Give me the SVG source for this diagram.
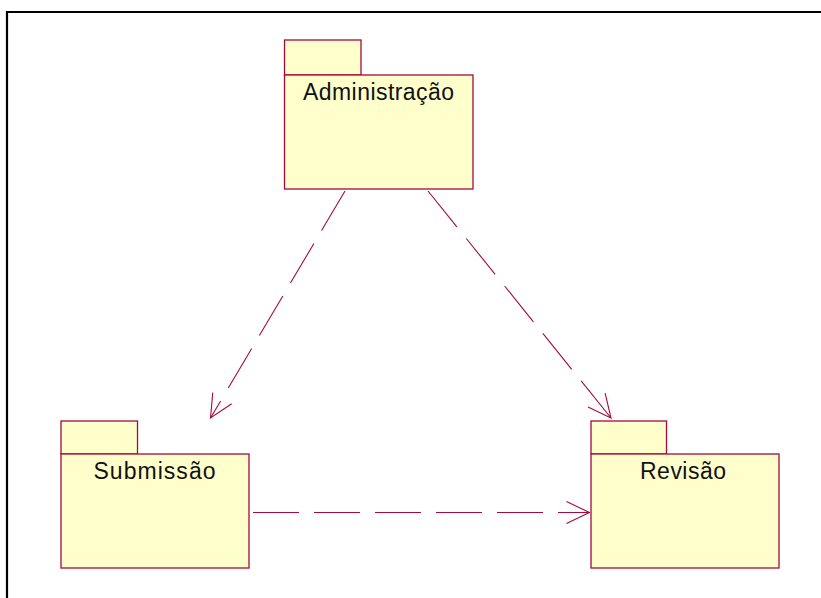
<svg xmlns="http://www.w3.org/2000/svg" width="821" height="598" viewBox="0 0 821 598">
  <style>
    .pkg { fill: #ffffcc; stroke: #a50a3c; stroke-width: 1.3; }
    .lbl { font-family: "Liberation Sans", Arial, sans-serif; font-size: 23px; fill: #111; text-anchor: middle; }
    .dep { fill: none; stroke: #a50a3c; stroke-width: 1.1; stroke-dasharray: 46 15; }
  </style>
  <defs>
    <marker id="open" markerUnits="userSpaceOnUse" markerWidth="30" markerHeight="30" viewBox="-25 -15 30 30" refX="0" refY="0" orient="auto">
      <path d="M-23,-11 L0,0 L-23,11" fill="none" stroke="#a50a3c" stroke-width="1.1"/>
    </marker>
  </defs>
  <rect width="821" height="598" fill="#ffffff"/>
  <!-- frame -->
  <path d="M7,598 V12 H821" fill="none" stroke="#000" stroke-width="2.2"/>

  <g id="connectors">
    <line class="dep" x1="345" y1="191" x2="210.5" y2="418" marker-end="url(#open)"/>
    <line class="dep" x1="428" y1="191" x2="611" y2="418" marker-end="url(#open)"/>
    <line class="dep" x1="253" y1="512.5" x2="589.5" y2="512.5" marker-end="url(#open)"/>
  </g>

  <g id="administracao">
    <rect class="pkg" x="284.5" y="40" width="76.5" height="35"/>
    <rect class="pkg" x="284.5" y="75" width="188.5" height="114"/>
    <text class="lbl" x="378.5" y="99.5" textLength="151" lengthAdjust="spacing">Administração</text>
  </g>

  <g id="submissao">
    <rect class="pkg" x="61" y="421" width="76.5" height="33"/>
    <rect class="pkg" x="61" y="454" width="188" height="114"/>
    <text class="lbl" x="154.5" y="479" textLength="122" lengthAdjust="spacing">Submissão</text>
  </g>

  <g id="revisao">
    <rect class="pkg" x="591" y="421" width="75.5" height="33"/>
    <rect class="pkg" x="591" y="454" width="188" height="114"/>
    <text class="lbl" x="683" y="479" textLength="86" lengthAdjust="spacing">Revisão</text>
  </g>
</svg>
